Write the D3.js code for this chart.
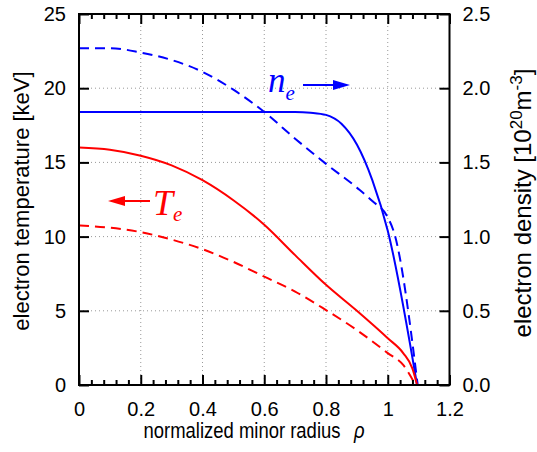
<!DOCTYPE html>
<html><head><meta charset="utf-8">
<script src="https://cdn.jsdelivr.net/npm/d3@7"></script>
<style>
body{margin:0;background:#fff;}
svg text{font-family:"Liberation Sans",Arial,sans-serif;}
svg text.serif{font-family:"Liberation Serif","Times New Roman",serif;font-style:italic;}
</style></head>
<body><svg id="c" width="537" height="452"></svg>
<script>
// ---- data ----
const teSolidRho = [0,0.1,0.2,0.3,0.4,0.5,0.6,0.7,0.8,0.9,1.0,1.05,1.08,1.095];
const teSolidVal = [16.0,15.85,15.45,14.8,13.8,12.45,10.8,8.75,6.75,5.0,3.15,2.15,1.1,0];
const teDashRho  = [0,0.1,0.2,0.3,0.4,0.5,0.6,0.7,0.8,0.9,1.0,1.05,1.09];
const teDashVal  = [10.75,10.6,10.3,9.8,9.15,8.3,7.3,6.3,5.05,3.7,2.15,1.35,0];
const neSolidRho = [0,0.5,0.7,0.75,0.8,0.85,0.9,0.95,1.0,1.095];
const neSolidVal = [1.84,1.84,1.84,1.835,1.82,1.76,1.62,1.38,1.04,0];
const neDashRho  = [0,0.1,0.2,0.3,0.4,0.5,0.6,0.7,0.8,0.9,0.95,1.0,1.02,1.097];
const neDashVal  = [2.27,2.27,2.24,2.19,2.11,1.99,1.84,1.66,1.49,1.33,1.24,1.13,1.03,0];
const xTicks = [0,0.2,0.4,0.6,0.8,1.0,1.2];
const yLeftTicks = [0,5,10,15,20,25];
const yRightTicks = [0,0.5,1.0,1.5,2.0,2.5];

const svg = d3.select("#c");
const L=79, R=449.5, T=14, B=385;
const x = d3.scaleLinear([0,1.2],[L,R]);
const yT = d3.scaleLinear([0,25],[B,T]);
const yN = d3.scaleLinear([0,2.5],[B,T]);
const RED="#ff0000", BLUE="#0000ff";

// grid
const g = svg.append("g");
g.selectAll("line.gx").data(xTicks.slice(1,-1)).join("line")
 .attr("x1",d=>x(d)).attr("x2",d=>x(d)).attr("y1",T).attr("y2",B)
 .attr("stroke","#999").attr("stroke-width",1).attr("stroke-dasharray","1,3");
g.selectAll("line.gy").data(yLeftTicks.slice(1,-1)).join("line")
 .attr("y1",d=>yT(d)).attr("y2",d=>yT(d)).attr("x1",L).attr("x2",R)
 .attr("stroke","#999").attr("stroke-width",1).attr("stroke-dasharray","1,3");

// curves
const line = (ys)=>d3.line().x(d=>x(d[0])).y(d=>ys(d[1])).curve(d3.curveMonotoneX);
const zip=(a,b)=>a.map((v,i)=>[v,b[i]]);
function draw(rho,val,ys,col,dash){
  svg.append("path").datum(zip(rho,val)).attr("d",line(ys))
   .attr("fill","none").attr("stroke",col).attr("stroke-width",2)
   .attr("stroke-dasharray",dash?"10,6":null);
}
draw(neDashRho,neDashVal,yN,BLUE,true);
draw(neSolidRho,neSolidVal,yN,BLUE,false);
draw(teDashRho,teDashVal,yT,RED,true);
draw(teSolidRho,teSolidVal,yT,RED,false);

// axes
const minor = d3.range(0,1.2001,0.04).filter(v=>Math.abs(v/0.2-Math.round(v/0.2))>1e-6);
function styleAx(s){ s.select(".domain").remove(); s.selectAll("line").attr("stroke","#000").attr("stroke-width",2);
  s.selectAll("text").attr("font-size",20).attr("fill","#000"); }
svg.append("g").attr("transform",`translate(0,${B})`)
 .call(d3.axisBottom(x).tickValues(xTicks).tickSize(-10).tickPadding(17).tickFormat(d3.format("~g"))).call(styleAx);
svg.append("g").attr("transform",`translate(0,${B})`)
 .call(d3.axisBottom(x).tickValues(minor).tickSize(-5).tickFormat("")).call(styleAx);
svg.append("g").attr("transform",`translate(0,${T})`)
 .call(d3.axisTop(x).tickValues(xTicks).tickSize(-10).tickFormat("")).call(styleAx);
svg.append("g").attr("transform",`translate(0,${T})`)
 .call(d3.axisTop(x).tickValues(minor).tickSize(-5).tickFormat("")).call(styleAx);
svg.append("g").attr("transform",`translate(${L},0)`)
 .call(d3.axisLeft(yT).tickValues(yLeftTicks).tickSize(-10).tickPadding(13).tickFormat(d3.format("d"))).call(styleAx);
svg.append("g").attr("transform",`translate(${R},0)`)
 .call(d3.axisRight(yN).tickValues(yRightTicks).tickSize(-10).tickPadding(13).tickFormat(d3.format(".1f"))).call(styleAx);

// frame
svg.append("rect").attr("x",L).attr("y",T).attr("width",R-L).attr("height",B-T)
 .attr("fill","none").attr("stroke","#000").attr("stroke-width",2);

// axis titles
svg.append("text").attr("transform","translate(29,201) rotate(-90)").attr("text-anchor","middle")
 .attr("font-size",22).text("electron temperature [keV]");
const rt = svg.append("text").attr("transform","translate(531,203) rotate(-90)").attr("text-anchor","middle").attr("font-size",24);
rt.append("tspan").text("electron density [10");
rt.append("tspan").attr("font-size",17).attr("dy",-9).text("20");
rt.append("tspan").attr("dy",9).text("m");
rt.append("tspan").attr("font-size",17).attr("dy",-9).text("-3");
rt.append("tspan").attr("dy",9).text("]");
const xt = svg.append("text").attr("transform","translate(254,438) scale(0.84,1)").attr("text-anchor","middle").attr("font-size",22);
xt.append("tspan").text("normalized minor radius");
xt.append("tspan").attr("dx",16).attr("font-style","italic").text("ρ");

// labels
const tl = svg.append("text").attr("class","serif").attr("x",153).attr("y",215).attr("fill",RED).attr("font-size",36);
tl.append("tspan").text("T");
tl.append("tspan").attr("font-size",21).attr("dy",6).text("e");
const nl = svg.append("text").attr("class","serif").attr("x",268).attr("y",92).attr("fill",BLUE).attr("font-size",35);
nl.append("tspan").text("n");
nl.append("tspan").attr("font-size",21).attr("dy",8).text("e");

function arrow(x1,x2,y,col){
  const dir = Math.sign(x2-x1), head=17, hw=5;
  svg.append("line").attr("x1",x1).attr("x2",x2-dir*head+dir*2).attr("y1",y).attr("y2",y).attr("stroke",col).attr("stroke-width",2);
  svg.append("path").attr("d",`M${x2},${y}L${x2-dir*head},${y-hw}L${x2-dir*head},${y+hw}Z`).attr("fill",col);
}
arrow(150,108,201,RED);
arrow(303,350,85,BLUE);
</script></body></html>
